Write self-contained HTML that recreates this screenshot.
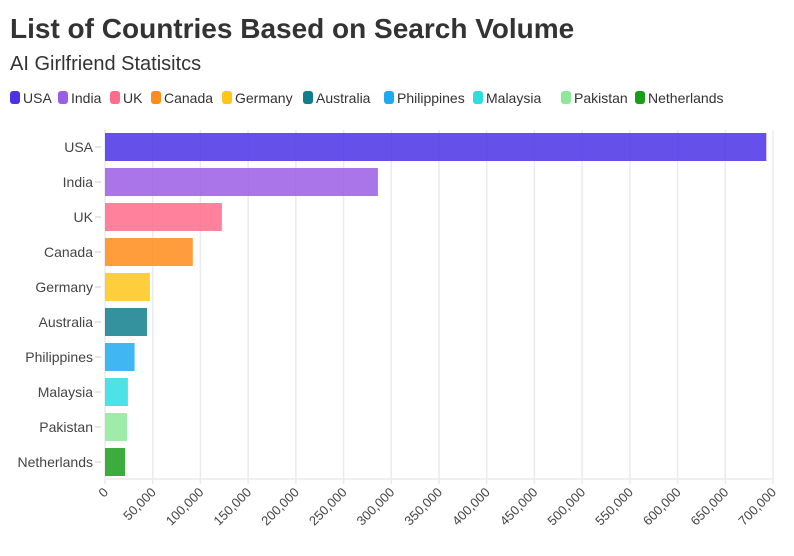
<!DOCTYPE html>
<html><head><meta charset="utf-8"><style>
body{margin:0;background:#fff;font-family:"Liberation Sans",sans-serif;}
svg{display:block}
</style></head><body>
<svg id="c" width="794" height="556">
<text x="10" y="38" font-size="28" font-weight="bold" fill="#333">List of Countries Based on Search Volume</text>
<text x="10" y="70" font-size="20" fill="#333">AI Girlfriend Statisitcs</text>
<g id="legend"></g>
<g id="grid"></g>
<g id="bars"></g>
<g id="ylab"></g>
<g id="xlab"></g>
</svg>
<script>
const categories=["USA","India","UK","Canada","Germany","Australia","Philippines","Malaysia","Pakistan","Netherlands"];
const values=[693000,286000,122500,92000,47000,44000,31000,24000,23000,21000];
const colors=["#4a33e6","#9b5de5","#ff6b8b","#ff8c1a","#ffc61a","#0f7f8c","#1eaaf1","#2edde0","#8ee89a","#1a9e1a"];
const ticks=[0,50000,100000,150000,200000,250000,300000,350000,400000,450000,500000,550000,600000,650000,700000];
const NS="http://www.w3.org/2000/svg";
const x0=105,x1=773,xmax=700000,yTop=130,yBottom=479,step=35,bh=28;
const xs=v=>x0+(v/xmax)*(x1-x0);
const yc=i=>147+i*step;
function mk(t,a,p){const e=document.createElementNS(NS,t);for(const k in a)e.setAttribute(k,a[k]);p.appendChild(e);return e;}
const grid=document.getElementById('grid'),bars=document.getElementById('bars'),yl=document.getElementById('ylab'),xl=document.getElementById('xlab'),lg=document.getElementById('legend');
ticks.forEach(t=>{
 const l=mk('line',{x1:xs(t),x2:xs(t),y1:yTop,y2:yBottom+5,stroke:'#ebebeb','stroke-width':1.5},grid);
 
 
 const x=xs(t);
 const tx=mk('text',{x:x+4,y:yBottom+14,'font-size':13,fill:'#444','text-anchor':'end',transform:`rotate(-45 ${x+4} ${yBottom+14})`},xl);
 tx.textContent=t.toLocaleString('en-US');
 
 
});
mk('line',{x1:x0,x2:x1,y1:yBottom,y2:yBottom,stroke:'#ebebeb','stroke-width':1.5},grid);
categories.forEach((c,i)=>{
 const r=mk('rect',{x:x0,y:yc(i)-bh/2,width:xs(values[i])-x0,height:bh,fill:colors[i],opacity:0.85},bars);
 
 
 mk('line',{x1:95,x2:101,y1:yc(i),y2:yc(i),stroke:'#ddd','stroke-width':1.5},yl);
 const t=mk('text',{x:93,y:yc(i)+5,'font-size':14,fill:'#444','text-anchor':'end'},yl);
 t.textContent=c;
 
 
});
const lx=[10,58,110,151,222,303,384,473,561,635];
categories.forEach((c,i)=>{
 const g=mk('g',{},lg);
 
 
 mk('rect',{x:lx[i],y:91,width:10,height:13,rx:3,fill:colors[i]},g);
 const t=mk('text',{x:lx[i]+13,y:103,'font-size':14,fill:'#333'},g);
 t.textContent=c;
});
</script>
</body></html>
